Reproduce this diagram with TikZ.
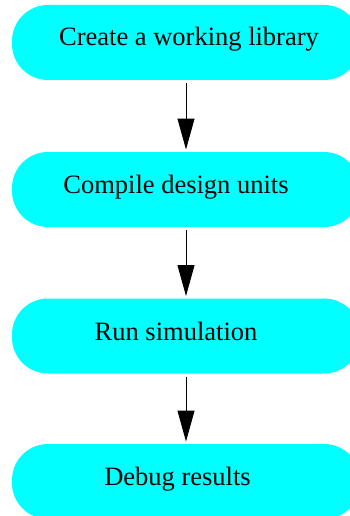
\documentclass[tikz,border=0pt]{standalone}
\usepackage{fontspec}
\setmainfont{Liberation Serif}
\usetikzlibrary{arrows.meta}
\definecolor{boxcyan}{RGB}{0,255,255}
\tikzset{
  stepbox/.style={fill=boxcyan, draw=none, rounded corners=36pt, minimum width=348pt, minimum height=75pt, inner sep=0pt},
  lbl/.style={anchor=base, inner sep=0pt, font=\fontsize{26.5}{30}\selectfont},
  arr/.style={draw=black, line width=1pt, -{Triangle[length=31pt,width=17pt]}, shorten <=3pt, shorten >=2.3pt}
}
\begin{document}
\begin{tikzpicture}[x=1pt,y=-1pt]
\useasboundingbox (0,0) rectangle (349,516);
\node[stepbox] (b1) at (186,42.5) {};
\node[stepbox] (b2) at (186,189.5) {};
\node[stepbox] (b3) at (186,336) {};
\node[stepbox] (b4) at (186,481.5) {};
\node[lbl] (t1) at (189,46) {Create a working library};
\node[lbl] (t2) at (176,193.5) {Compile design units};
\node[lbl] (t3) at (176,340) {Run simulation};
\node[lbl] (t4) at (177.5,485) {Debug results};
\draw[arr] (b1) -- (b2);
\draw[arr] (b2) -- (b3);
\draw[arr] (b3) -- (b4);
\end{tikzpicture}
\end{document}
